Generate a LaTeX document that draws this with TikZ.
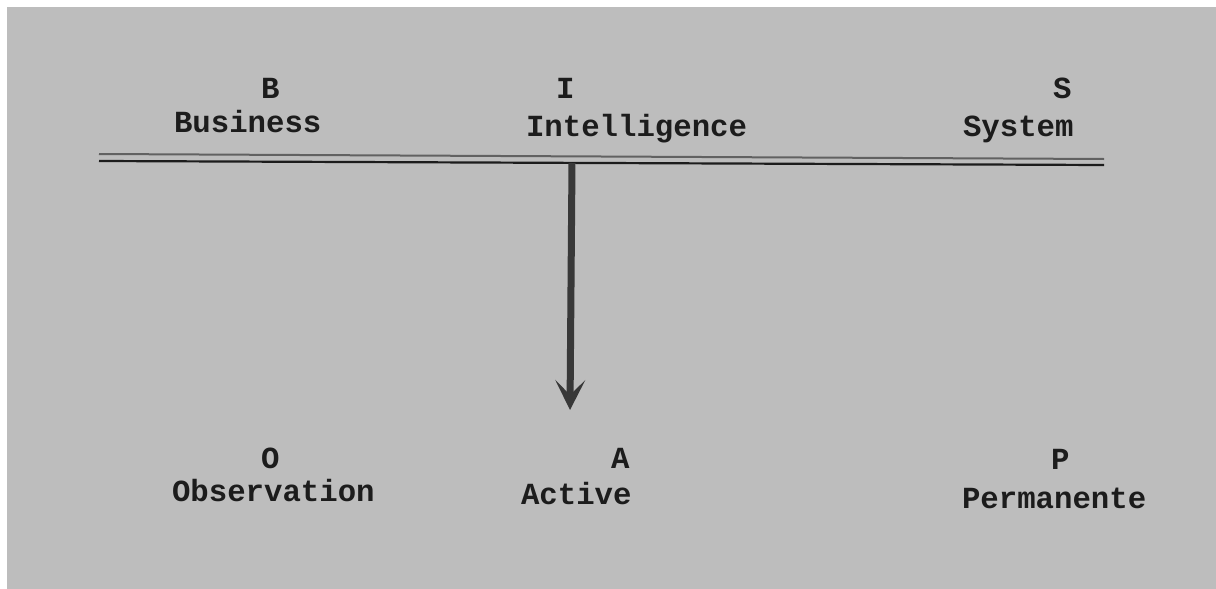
\documentclass[tikz,border=0pt]{standalone}
\usepackage{fontspec}
\setmonofont{Liberation Mono}
\usetikzlibrary{arrows.meta}
\definecolor{bg}{HTML}{BDBDBD}
\definecolor{ink}{HTML}{1C1C1C}
\begin{document}
\begin{tikzpicture}[x=1pt,y=-1pt,
  lbl/.style={inner sep=0pt,outer sep=0pt,anchor=base west,text=ink,
    font=\ttfamily\bfseries\fontsize{30.7}{36}\selectfont}]
\useasboundingbox (0,0) rectangle (1216,589);
\fill[white] (0,0) rectangle (1216,589);
\fill[bg] (7,7) rectangle (1216,589);
% top labels
\node[lbl] (b) at (261,98) {B};
\node[lbl] (business) at (174,132) {Business};
\node[lbl] (i) at (556,98) {I};
\node[lbl] (intel) at (526,136) {Intelligence};
\node[lbl] (s) at (1053,98) {S};
\node[lbl] (system) at (963,136) {System};
% bottom labels
\node[lbl] (o) at (261,468) {O};
\node[lbl] (obs) at (172,501) {Observation};
\node[lbl] (a) at (611,468) {A};
\node[lbl] (active) at (521,504) {Active};
\node[lbl] (p) at (1051,469) {P};
\node[lbl] (perm) at (962,508) {Permanente};
% double line
\coordinate (l1) at (99,154);
\coordinate (r1) at (1104,159);
\coordinate (l2) at (99,161);
\coordinate (r2) at (1104,165);
\draw[line width=2pt,color=black!62] (l1) -- (r1);
\draw[line width=2.2pt,color=ink] (l2) -- (r2);
% arrow
\coordinate (top) at (572,163);
\coordinate (tip) at (570,410);
\draw[line width=7pt,color=black!78,-{Stealth[length=30pt,width=30pt,inset=15pt]}] (top) -- (tip);
\end{tikzpicture}
\end{document}
